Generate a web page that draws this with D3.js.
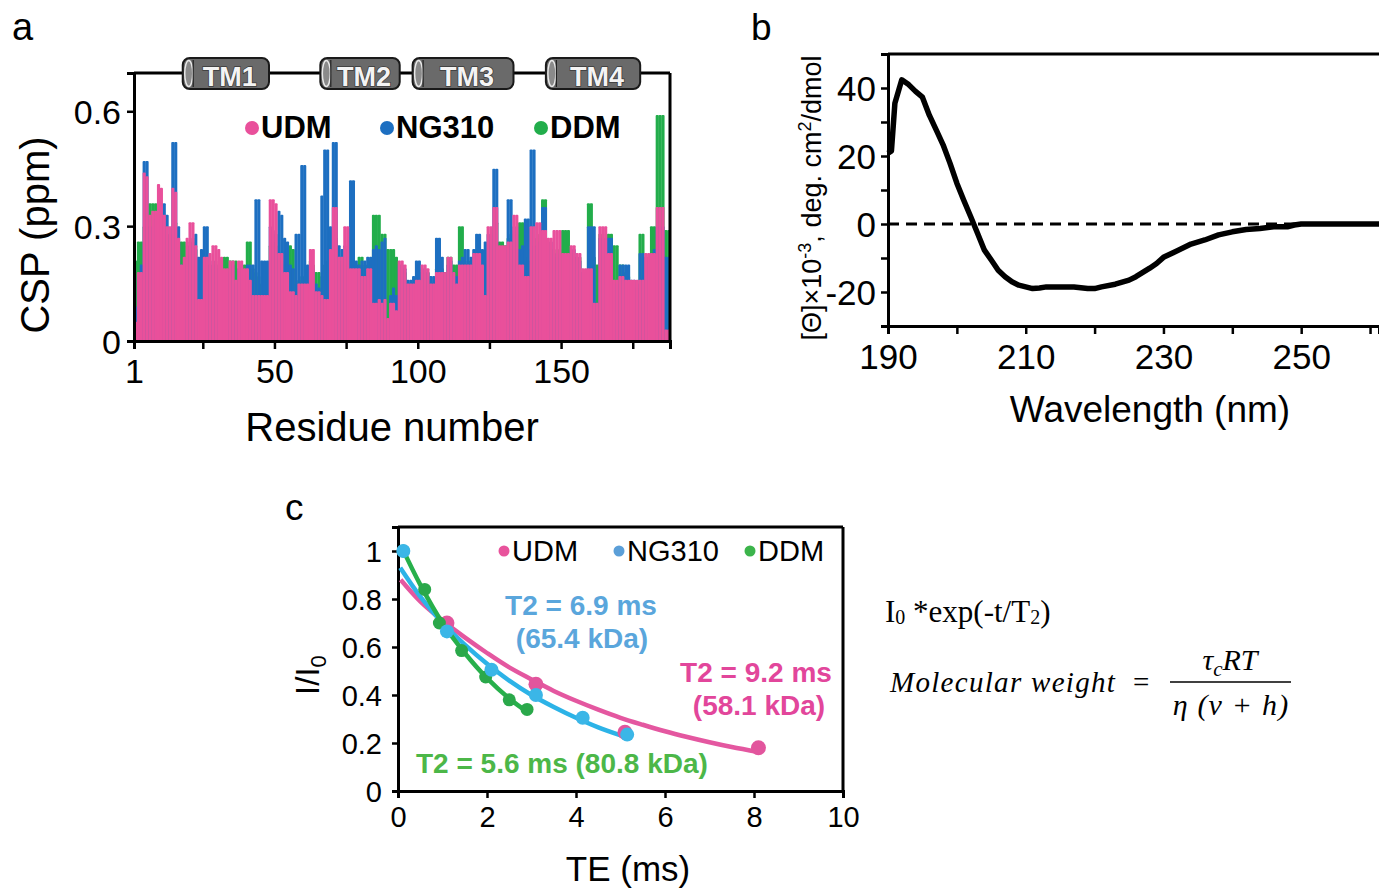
<!DOCTYPE html>
<meta charset="utf-8">
<script src="https://d3js.org/d3.v7.min.js"></script>
<style>
  body { margin: 0; background: #fff; }
  svg { font-family: "Liberation Sans", Arial, sans-serif; }
  .ax path, .ax line { stroke: #000; }
</style>
<body>
<div id="fig"></div>
<script>

  // ---------- panel a : chemical shift perturbation per residue ----------
  // values for residues 1..187
  var udm = [.05,.18,.18,.44,.43,.33,.34,.34,.41,.40,
    .33,.30,.30,.40,.39,.27,.20,.22,.27,.31,
    .31,.25,.11,.11,.22,.22,.23,.25,.25,.24,
    .22,.19,.19,.21,.21,.16,.21,.21,.19,.19,
    .16,.12,.12,.12,.12,.12,.12,.37,.37,.36,
    .23,.23,.18,.18,.13,.13,.12,.15,.15,.15,
    .15,.24,.24,.13,.13,.12,.11,.11,.24,.35,
    .35,.22,.22,.30,.30,.19,.19,.19,.19,.17,
    .17,.19,.19,.10,.10,.11,.10,.11,.06,.10,
    .10,.08,.21,.21,.20,.15,.15,.15,.16,.16,
    .20,.20,.19,.15,.15,.18,.18,.18,.18,.22,
    .22,.18,.15,.20,.20,.20,.20,.20,.23,.23,
    .23,.20,.12,.30,.30,.35,.35,.25,.25,.25,
    .26,.26,.33,.33,.20,.20,.17,.17,.30,.30,
    .31,.31,.29,.29,.27,.27,.29,.29,.29,.23,
    .23,.23,.25,.25,.23,.23,.19,.19,.19,.19,
    .10,.10,.30,.30,.30,.23,.23,.16,.16,.17,
    .17,.16,.16,.16,.16,.16,.16,.16,.23,.23,
    .23,.23,.35,.35,.35,.03,.03];
  var ng310 = [.09,.17,.20,.47,.47,.30,.30,.32,.35,.36,
    .36,.33,.28,.52,.52,.30,.20,.20,.22,.24,
    .26,.28,.22,.24,.30,.30,.20,.21,.20,.19,
    .18,.17,.18,.19,.20,.15,.19,.18,.17,.20,
    .20,.20,.37,.37,.21,.21,.21,.30,.29,.28,
    .34,.33,.27,.26,.20,.19,.28,.28,.46,.46,
    .20,.20,.19,.15,.14,.38,.50,.50,.30,.52,
    .52,.25,.24,.25,.24,.42,.42,.21,.20,.21,
    .21,.22,.22,.24,.25,.24,.26,.27,.05,.12,
    .14,.12,.20,.20,.19,.16,.16,.17,.21,.21,
    .19,.19,.18,.17,.17,.27,.27,.22,.17,.20,
    .21,.18,.17,.21,.22,.24,.24,.22,.24,.28,
    .28,.24,.26,.28,.28,.45,.45,.22,.22,.24,
    .37,.37,.30,.30,.24,.25,.32,.32,.50,.50,
    .25,.26,.35,.35,.26,.26,.22,.23,.22,.14,
    .14,.15,.24,.24,.22,.21,.18,.18,.30,.30,
    .30,.10,.27,.27,.26,.27,.27,.15,.15,.20,
    .20,.20,.20,.16,.16,.15,.23,.23,.22,.22,
    .23,.24,.30,.30,.30,.22,.22];
  var ddm = [.21,.26,.26,.30,.30,.36,.36,.36,.33,.34,
    .30,.28,.27,.30,.31,.26,.26,.26,.25,.26,
    .27,.24,.10,.12,.21,.20,.19,.20,.21,.20,
    .20,.22,.22,.21,.21,.21,.19,.20,.20,.26,
    .26,.19,.18,.17,.15,.14,.11,.25,.26,.25,
    .22,.21,.20,.20,.25,.24,.15,.16,.17,.17,
    .18,.21,.20,.18,.18,.17,.20,.21,.22,.26,
    .27,.21,.20,.22,.22,.20,.21,.20,.22,.22,
    .20,.20,.21,.33,.33,.33,.28,.28,.24,.24,
    .24,.22,.20,.19,.18,.14,.15,.14,.17,.18,
    .18,.17,.18,.16,.15,.19,.20,.19,.18,.22,
    .22,.20,.20,.30,.30,.20,.21,.21,.22,.24,
    .24,.12,.11,.26,.25,.30,.31,.26,.26,.25,
    .27,.28,.29,.28,.31,.31,.22,.21,.24,.25,
    .27,.28,.37,.37,.24,.24,.23,.24,.24,.29,
    .29,.29,.23,.22,.22,.22,.18,.17,.36,.36,
    .22,.20,.28,.28,.27,.28,.28,.25,.25,.20,
    .20,.18,.17,.15,.14,.14,.28,.28,.22,.22,
    .30,.30,.59,.59,.59,.29,.29];
  var tmNames = ["TM1", "TM2", "TM3", "TM4"];
  var tmStart = [18, 66, 98.2, 144.7];
  var tmEnd = [48.1, 93.7, 133.4, 177.6];
  var cspTicks = [0, 0.3, 0.6];
  var residueTicks = [1, 25, 50, 75, 100, 125, 150, 175];
  var residueLabels = [1, 50, 100, 150];

  // ---------- panel b : CD spectrum ----------
  var cdWave = [190,190.5,191,192,193,194,195,196,197,198,199,200,201,202,203,204,205,206,207,208,209,210,211,212,213,215,217,219,220,221,223,225,226,228,229,230,232,234,236,238,240,242,244,246,248,249,250,255,261.3];
  var cdVal = [20.8,21.5,35.5,42.4,41,39,37.3,32,27.7,23.3,17.9,12,7,2.2,-2.7,-7.7,-10.6,-13.6,-15.5,-17,-18,-18.5,-19,-18.8,-18.5,-18.5,-18.5,-19,-19,-18.5,-17.7,-16.5,-15.5,-13,-11.6,-9.8,-7.9,-5.9,-4.7,-3.2,-2.3,-1.6,-1.3,-0.8,-0.8,-0.3,0,0,0];
  var cdTicksY = [-30, -20, -10, 0, 10, 20, 30, 40];
  var cdTicksX = [190, 200, 210, 220, 230, 240, 250, 260];

  // ---------- panel c : T2 relaxation ----------
  var udmFitT = [0.06,0.5,1,1.5,2,2.5,3,3.5,4,4.5,5,5.5,6,6.5,7,7.5,8.1];
  var udmFitI = [0.88,0.79,0.71,0.64,0.575,0.515,0.465,0.417,0.376,0.339,0.305,0.276,0.249,0.225,0.203,0.183,0.162];
  var ngFitT = [0.05,0.5,1,1.5,2,2.5,3,3.5,4,4.5,5,5.2];
  var ngFitI = [0.93,0.81,0.70,0.61,0.53,0.46,0.40,0.35,0.305,0.265,0.232,0.22];
  var ddmFitT = [0.1,0.5,1,1.5,2,2.5,2.9];
  var ddmFitI = [1.01,0.86,0.70,0.575,0.47,0.385,0.33];
  var udmPtT = [1.1,3.1,5.1,8.1];
  var udmPtI = [0.70,0.445,0.245,0.18];
  var ngPtT = [0.12,1.1,2.1,3.1,4.15,5.15];
  var ngPtI = [1.0,0.665,0.505,0.40,0.305,0.235];
  var ddmPtT = [0.12,0.6,0.93,1.43,1.97,2.5,2.9];
  var ddmPtI = [1.0,0.84,0.70,0.585,0.475,0.38,0.34];
  var teTicks = [0, 2, 4, 6, 8, 10];
  var iTicks = [0, 0.2, 0.4, 0.6, 0.8, 1];

  var pink = "#e9509b", blue = "#1d6fc1", green = "#22ad4b";

  var svg = d3.select("#fig").append("svg")
    .attr("width", 1379)
    .attr("height", 891);

  function label(g, x, y, txt, size, opts) {
    opts = opts || {};
    return g.append("text")
      .attr("x", x).attr("y", y)
      .attr("font-size", size)
      .attr("font-weight", opts.bold ? "bold" : null)
      .attr("text-anchor", opts.anchor || "start")
      .attr("fill", opts.fill || "#000")
      .text(txt);
  }

  // =================== panel a ===================
  var xa = d3.scaleLinear().domain([1, 188]).range([134, 670]);
  var ya = d3.scaleLinear().domain([0, 0.7]).range([341, 73]);
  var bw = xa(2) - xa(1);

  var ga = svg.append("g");
  label(ga, 12, 40, "a", 38);

  // bars: DDM behind, NG310, UDM in front
  [[ddm, green], [ng310, blue], [udm, pink]].forEach(function (s) {
    ga.append("g").selectAll("rect")
      .data(s[0])
      .join("rect")
      .attr("x", function (d, i) { return xa(i + 1); })
      .attr("width", bw + 0.3)
      .attr("y", function (d) { return ya(d); })
      .attr("height", function (d) { return ya(0) - ya(d) + 2; })
      .attr("rx", 1)
      .attr("fill", s[1]);
  });

  // frame
  ga.append("line").attr("x1", 134).attr("x2", 670).attr("y1", 73).attr("y2", 73)
    .attr("stroke", "#000").attr("stroke-width", 3);
  ga.append("line").attr("x1", 670).attr("x2", 670).attr("y1", 73).attr("y2", 342)
    .attr("stroke", "#000").attr("stroke-width", 3);

  var axA = ga.append("g").attr("class", "ax")
    .attr("transform", "translate(134,0)")
    .call(d3.axisLeft(ya).tickValues(cspTicks).tickSize(7).tickPadding(6)
      .tickFormat(function (d) { return d === 0 ? "0" : d3.format(".1f")(d); }));
  var axB = ga.append("g").attr("class", "ax")
    .attr("transform", "translate(0,341)")
    .call(d3.axisBottom(xa).tickValues(residueTicks).tickSize(8).tickPadding(10)
      .tickFormat(function (d) { return residueLabels.indexOf(d) >= 0 ? d : ""; }));
  [axA, axB].forEach(function (a) {
    a.select(".domain").attr("stroke-width", 3);
    a.selectAll(".tick line").attr("stroke-width", 2.5);
    a.selectAll("text").attr("font-size", 34).attr("fill", "#000").attr("font-family", "Liberation Sans, Arial");
  });
  axA.selectAll("text").attr("dy", "0.36em");
  axB.selectAll("text").attr("dy", "0.72em");

  label(ga, 392, 441, "Residue number", 40, { anchor: "middle" });
  ga.append("text")
    .attr("transform", "translate(49,235) rotate(-90)")
    .attr("text-anchor", "middle").attr("font-size", 40)
    .text("CSP (ppm)");

  // TM helices
  tmNames.forEach(function (n, i) {
    var x0 = xa(tmStart[i]), x1 = xa(tmEnd[i]);
    var tg = ga.append("g");
    tg.append("rect").attr("x", x0).attr("y", 58).attr("width", x1 - x0).attr("height", 31)
      .attr("rx", 7).attr("fill", "#6a6a6a").attr("stroke", "#1a1a1a").attr("stroke-width", 2);
    tg.append("ellipse").attr("cx", x0 + 6).attr("cy", 73.5).attr("rx", 4).attr("ry", 13)
      .attr("fill", "#8a8a8a").attr("stroke", "#e8e8e8").attr("stroke-width", 1.5);
    tg.append("line").attr("x1", x0 + 10.5).attr("x2", x0 + 10.5).attr("y1", 60).attr("y2", 87)
      .attr("stroke", "#222").attr("stroke-width", 1.2);
    tg.append("text").attr("x", (x0 + x1) / 2 + 4).attr("y", 86)
      .attr("text-anchor", "middle").attr("font-size", 27).attr("font-weight", "bold")
      .attr("fill", "#f4f4f4").attr("stroke", "#3a3a3a").attr("stroke-width", 1.5)
      .attr("paint-order", "stroke")
      .text(n);
  });

  // legend a
  var legA = [["UDM", pink, 252], ["NG310", blue, 387], ["DDM", green, 541]];
  legA.forEach(function (l) {
    ga.append("circle").attr("cx", l[2]).attr("cy", 128).attr("r", 7).attr("fill", l[1]);
    label(ga, l[2] + 9, 138, l[0], 31, { bold: true });
  });

  // =================== panel b ===================
  var xb = d3.scaleLinear().domain([190, 261.3]).range([888, 1379]);
  var yb = d3.scaleLinear().domain([-30, 50]).range([326, 54]);
  var gb = svg.append("g");
  label(gb, 751, 40, "b", 37);

  gb.append("line").attr("x1", 888).attr("x2", 1379).attr("y1", 54).attr("y2", 54)
    .attr("stroke", "#000").attr("stroke-width", 3);
  gb.append("line").attr("x1", xb(190)).attr("x2", 1379).attr("y1", yb(0)).attr("y2", yb(0))
    .attr("stroke", "#000").attr("stroke-width", 3).attr("stroke-dasharray", "11,7");

  var axBy = gb.append("g").attr("class", "ax")
    .attr("transform", "translate(888,0)")
    .call(d3.axisLeft(yb).tickValues(cdTicksY).tickSize(7).tickPadding(5)
      .tickFormat(function (d) { return d % 20 === 0 && d > -30 ? d : ""; }));
  var axBx = gb.append("g").attr("class", "ax")
    .attr("transform", "translate(0,326)")
    .call(d3.axisBottom(xb).tickValues(cdTicksX).tickSize(8).tickPadding(10)
      .tickFormat(function (d) { return (d - 190) % 20 === 0 ? d : ""; }));
  [axBy, axBx].forEach(function (a) {
    a.select(".domain").attr("stroke-width", 3);
    a.selectAll(".tick line").attr("stroke-width", 2.5);
    a.selectAll("text").attr("font-size", 35).attr("fill", "#000").attr("font-family", "Liberation Sans, Arial");
  });
  axBy.selectAll("text").attr("dy", "0.36em");
  axBx.selectAll("text").attr("dy", "0.72em");

  gb.append("path")
    .datum(cdWave.map(function (w, i) { return [w, cdVal[i]]; }))
    .attr("d", d3.line().x(function (d) { return xb(d[0]); }).y(function (d) { return yb(d[1]); }))
    .attr("fill", "none").attr("stroke", "#000").attr("stroke-width", 5.5)
    .attr("stroke-linejoin", "round");

  label(gb, 1150, 422, "Wavelength (nm)", 37, { anchor: "middle" });
  var yt = gb.append("text")
    .attr("transform", "translate(821,198) rotate(-90)")
    .attr("text-anchor", "middle").attr("font-size", 27);
  yt.append("tspan").text("[\u0398]\u00d710");
  yt.append("tspan").attr("font-size", 18).attr("dy", -10).text("-3");
  yt.append("tspan").attr("dy", 10).text(", deg. cm");
  yt.append("tspan").attr("font-size", 18).attr("dy", -10).text("2");
  yt.append("tspan").attr("dy", 10).text("/dmol");

  // =================== panel c ===================
  var xc = d3.scaleLinear().domain([0, 10]).range([398, 843]);
  var yc = d3.scaleLinear().domain([0, 1.1]).range([791, 527]);
  var gc = svg.append("g");
  label(gc, 285, 520, "c", 37);

  gc.append("line").attr("x1", 398).attr("x2", 843).attr("y1", 527).attr("y2", 527)
    .attr("stroke", "#000").attr("stroke-width", 3);
  gc.append("line").attr("x1", 843).attr("x2", 843).attr("y1", 527).attr("y2", 791)
    .attr("stroke", "#000").attr("stroke-width", 3);

  var axCy = gc.append("g").attr("class", "ax")
    .attr("transform", "translate(398,0)")
    .call(d3.axisLeft(yc).tickValues(iTicks).tickSize(6).tickPadding(10)
      .tickFormat(function (d) { return d === 0 || d === 1 ? d : d3.format(".1f")(d); }));
  var axCx = gc.append("g").attr("class", "ax")
    .attr("transform", "translate(0,791)")
    .call(d3.axisBottom(xc).tickValues(teTicks).tickSize(7).tickPadding(8));
  [axCy, axCx].forEach(function (a) {
    a.select(".domain").attr("stroke-width", 3);
    a.selectAll(".tick line").attr("stroke-width", 2.5);
    a.selectAll("text").attr("font-size", 29).attr("fill", "#000").attr("font-family", "Liberation Sans, Arial");
  });
  axCy.selectAll("text").attr("dy", "0.36em");
  axCx.selectAll("text").attr("dy", "0.72em");

  var lineC = d3.line().curve(d3.curveCatmullRom)
    .x(function (d) { return xc(d[0]); }).y(function (d) { return yc(d[1]); });
  function zip(a, b) { return a.map(function (v, i) { return [v, b[i]]; }); }

  var series = [
    { fitT: udmFitT, fitI: udmFitI, ptT: udmPtT, ptI: udmPtI, line: "#e457a0", pt: "#e2559d", r: 7.5 },
    { fitT: ngFitT, fitI: ngFitI, ptT: ngPtT, ptI: ngPtI, line: "#2cb3e7", pt: "#3bb6e7", r: 7 },
    { fitT: ddmFitT, fitI: ddmFitI, ptT: ddmPtT, ptI: ddmPtI, line: "#27b04b", pt: "#2aa84a", r: 6.5 }
  ];
  series.forEach(function (s) {
    gc.append("path").datum(zip(s.fitT, s.fitI)).attr("d", lineC)
      .attr("fill", "none").attr("stroke", s.line).attr("stroke-width", 4.5);
  });
  [series[0], series[2], series[1]].forEach(function (s) {
    gc.append("g").selectAll("circle").data(zip(s.ptT, s.ptI)).join("circle")
      .attr("cx", function (d) { return xc(d[0]); })
      .attr("cy", function (d) { return yc(d[1]); })
      .attr("r", s.r).attr("fill", s.pt);
  });

  var legC = [["UDM", "#e8539c", 504], ["NG310", "#5b9fd8", 619], ["DDM", "#3cb44b", 750]];
  legC.forEach(function (l) {
    gc.append("circle").attr("cx", l[2]).attr("cy", 551).attr("r", 5.5).attr("fill", l[1]);
    label(gc, l[2] + 8, 561, l[0], 29);
  });

  label(gc, 581, 615, "T2 = 6.9 ms", 28, { bold: true, anchor: "middle", fill: "#5aa6dc" });
  label(gc, 582, 648, "(65.4 kDa)", 28, { bold: true, anchor: "middle", fill: "#5aa6dc" });
  label(gc, 756, 682, "T2 = 9.2 ms", 28, { bold: true, anchor: "middle", fill: "#e2469b" });
  label(gc, 759, 715, "(58.1 kDa)", 28, { bold: true, anchor: "middle", fill: "#e2469b" });
  label(gc, 416, 773, "T2 = 5.6 ms (80.8 kDa)", 28, { bold: true, fill: "#4cb748" });

  label(gc, 628, 881, "TE (ms)", 35, { anchor: "middle" });
  var it = gc.append("text")
    .attr("transform", "translate(319,675) rotate(-90)")
    .attr("text-anchor", "middle").attr("font-size", 33);
  it.append("tspan").text("I/I");
  it.append("tspan").attr("font-size", 22).attr("dy", 7).text("0");

  // =================== formulas ===================
  var gf = svg.append("g").attr("font-family", "Liberation Serif, Times New Roman, serif");
  var f1 = gf.append("text").attr("x", 885).attr("y", 622).attr("font-size", 31);
  f1.append("tspan").text("I");
  f1.append("tspan").attr("font-size", 20).attr("dy", 2).text("0");
  f1.append("tspan").attr("dy", -2).text(" *exp(-t/T");
  f1.append("tspan").attr("font-size", 20).attr("dy", 2).text("2");
  f1.append("tspan").attr("dy", -2).text(")");

  gf.append("text").attr("x", 890).attr("y", 692).attr("font-size", 29)
    .attr("font-style", "italic").attr("letter-spacing", 1.3)
    .text("Molecular weight");
  gf.append("text").attr("x", 1133).attr("y", 692).attr("font-size", 29).text("=");
  var num = gf.append("text").attr("x", 1230).attr("y", 670).attr("font-size", 30)
    .attr("font-style", "italic").attr("text-anchor", "middle");
  num.append("tspan").text("\u03c4");
  num.append("tspan").attr("font-size", 21).attr("dy", 6).text("c");
  num.append("tspan").attr("dy", -6).text("RT");
  gf.append("line").attr("x1", 1170).attr("x2", 1291).attr("y1", 682).attr("y2", 682)
    .attr("stroke", "#000").attr("stroke-width", 1.6);
  gf.append("text").attr("x", 1231).attr("y", 715).attr("font-size", 30)
    .attr("font-style", "italic").attr("text-anchor", "middle").attr("letter-spacing", 1.2)
    .text("\u03b7 (v + h)");

</script>
</body>
